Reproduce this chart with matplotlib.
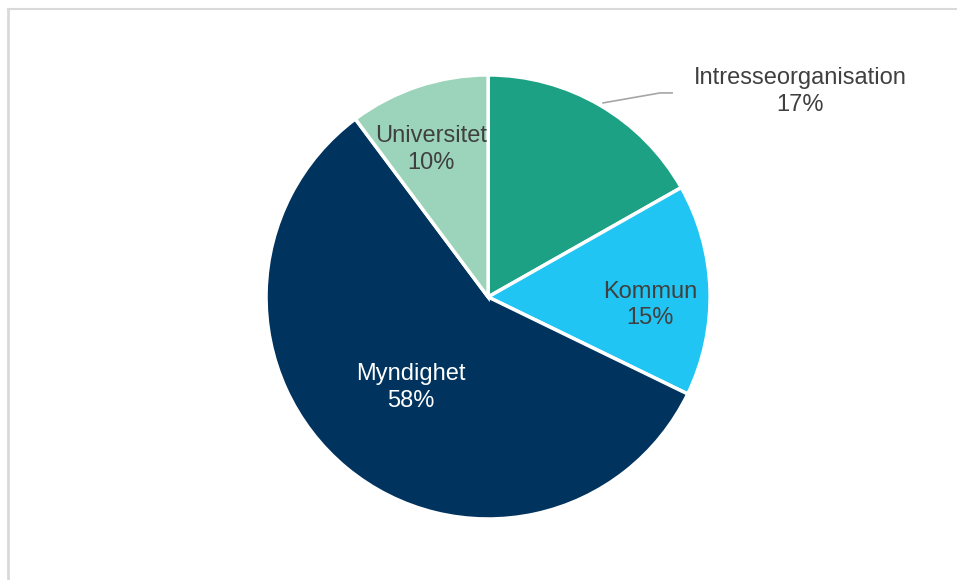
import matplotlib.pyplot as plt

plt.rcParams['font.family'] = ['Liberation Sans', 'DejaVu Sans']

# Slices, clockwise from 12 o'clock
labels = ["Intresseorganisation", "Kommun", "Myndighet", "Universitet"]
shares = [16.8, 15.4, 57.6, 10.2]
colors = ["#1da185", "#21c5f3", "#00335e", "#9bd4bb"]
text_colors = ["#404040", "#404040", "#ffffff", "#404040"]

# label centres in pie units (radius = 1)
label_pos = [(1.405, 0.925), (0.730, -0.035), (-0.347, -0.408), (-0.257, 0.664)]

fig = plt.figure(figsize=(9.57, 5.8), dpi=100)

# light gray frame (left and top only)
fig.add_artist(plt.Line2D([0.008, 0.008], [0, 0.985], color="#d9d9d9", lw=2))
fig.add_artist(plt.Line2D([0.008, 1.0], [0.985, 0.985], color="#d9d9d9", lw=1.5))

ax = fig.add_axes([0.51 - 0.232, 0.488 - 0.383, 0.464, 0.766])
wedges, _ = ax.pie(shares, colors=colors, startangle=90, counterclock=False,
                   radius=1, wedgeprops=dict(edgecolor="white", linewidth=2.5))
ax.set_xlim(-1, 1)
ax.set_ylim(-1, 1)
ax.set_aspect("equal")
ax.axis("off")

for lab, val, tc, (x, y) in zip(labels, shares, text_colors, label_pos):
    ax.text(x, y, f"{lab}\n{val:.0f}%", ha="center", va="center",
            fontsize=17, color=tc, linespacing=1.25, clip_on=False)

# leader line for the outside label
ax.plot([0.518, 0.775, 0.829], [0.874, 0.919, 0.919],
        color="#a6a6a6", lw=1.2, clip_on=False)

fig.savefig("out.png", dpi=100)
